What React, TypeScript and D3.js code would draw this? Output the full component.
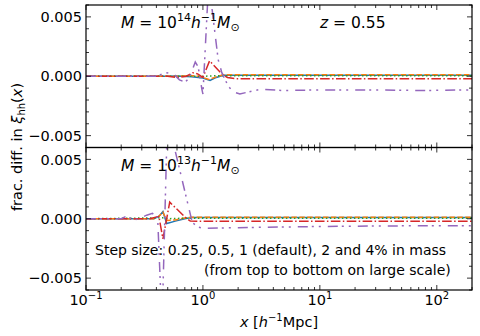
import React from "react";
import * as d3 from "d3";

// step sizes, from top to bottom on large scale
const stepNames = ["0.25%", "0.5%", "1%", "2%", "4%"];
const stepColors = ["#1f77b4", "#ff7f0e", "#2ca02c", "#d62728", "#9467bd"];
const stepDashes = ["", "5.5,2.4", "1.5,2.5", "9.6,2.4,1.5,2.4", "10,4,2,5,2,7"];

// M = 1e14 panel, [x (h^-1 Mpc), frac. diff.]
const top025 = [[0.1, 0], [0.5, 0], [0.6, 0.00003], [0.8, -0.00005], [1.0, -0.00015], [1.15, -0.00035], [1.3, -0.0001], [1.5, 0.00008], [200, 0.00008]];
const top05 = [[0.1, 0], [0.6, 0], [0.85, 0.00005], [1.0, -0.0001], [1.12, -0.00028], [1.3, -0.00005], [1.5, 0.00012], [200, 0.00012]];
const top1 = [[0.1, 0], [1.0, 0], [1.4, 0.00005], [200, 0.00005]];
const top2 = [[0.1, 0], [0.5, 0], [0.6, -0.0001], [0.72, 0], [0.82, 0.0003], [0.9, 0.0002], [1.0, -0.0001], [1.14, 0.0013], [1.45, 0.0002], [1.62, -0.0001], [1.9, -0.0002], [5, -0.0002], [20, -0.00022], [200, -0.00022]];
const top4 = [[0.1, 0], [0.4, 0], [0.48, 0.0003], [0.56, 0.0002], [0.63, -0.0003], [0.7, -0.0005], [0.76, -0.0002], [0.86, 0.0012], [0.91, 0.0008], [0.98, -0.0011], [1.0, -0.0015], [1.12, 0.008], [1.35, 0.0014], [1.45, 0.0003], [1.64, -0.0008], [1.8, -0.0013], [2.07, -0.0015], [2.5, -0.0013], [3.1, -0.0011], [4.8, -0.0012], [10, -0.00115], [30, -0.00115], [80, -0.0012], [200, -0.00115]];

// M = 1e13 panel
const bot025 = [[0.1, 0], [0.38, 0], [0.42, 0.0002], [0.455, 0.0006], [0.49, -0.0004], [0.58, -0.0002], [0.7, 0], [0.8, 0.0001], [200, 0.0001]];
const bot05 = [[0.1, 0], [0.38, 0], [0.42, 0.0002], [0.455, 0.00055], [0.49, -0.00015], [0.58, -0.0001], [0.68, 0.00005], [0.8, 0.00012], [200, 0.00012]];
const bot1 = [[0.1, 0], [0.45, 0.00008], [0.5, 0], [0.7, 0.00005], [200, 0.00005]];
const bot2 = [[0.1, 0], [0.35, 0], [0.42, 0.0002], [0.455, -0.0017], [0.52, 0.0014], [0.7, 0.00015], [0.78, -0.0002], [3, -0.00022], [200, -0.0002]];
const bot4 = [[0.1, 0], [0.2, 0], [0.22, 0.0002], [0.26, -0.0001], [0.3, 0.0001], [0.33, 0.0003], [0.37, 0.00045], [0.41, 0.0001], [0.447, -0.009], [0.5, 0.0095], [0.57, 0.006], [0.81, -0.0003], [0.9, -0.0007], [1.0, -0.0008], [2, -0.00075], [10, -0.00065], [50, -0.0006], [200, -0.00058]];

const xMajor = [0.1, 1, 10, 100];
const xExp = ["\u22121", "0", "1", "2"];
const yMajor = [-0.005, 0, 0.005];
const yLabels = ["\u22120.005", "0.000", "0.005"];

const W = 480;
const H = 336;
const left = 86;
const right = 472;
const panelTop = [5, 147.5];
const panelH = 142.5;
const font = "DejaVu Sans";

const x = d3.scaleLog().domain([0.1, 200]).range([left, right]);
const xMinor = d3.range(-1, 3).flatMap(e => d3.range(2, 10).map(m => m * Math.pow(10, e))).filter(v => v <= 200);
const yMinor = d3.range(-6, 7).map(v => v * 0.001).filter(v => Math.abs(v) > 1e-9 && Math.abs(Math.abs(v) - 0.005) > 1e-9);

const MassLabel = ({ xx, yy, exp }) => (
  <text x={xx} y={yy} fontFamily={font} fontSize={15.5}>
    <tspan fontStyle="italic">M</tspan>
    <tspan> = 10</tspan>
    <tspan dy={-7} fontSize={11}>{exp}</tspan>
    <tspan dy={7} fontStyle="italic">h</tspan>
    <tspan dy={-7} fontSize={11}>{"\u22121"}</tspan>
    <tspan dy={7} fontStyle="italic">M</tspan>
    <tspan dy={3} fontSize={11}>{"\u2299"}</tspan>
  </text>
);

const Panel = ({ idx, series, children }) => {
  const y0 = panelTop[idx];
  const y = d3.scaleLinear().domain([-0.006, 0.006]).range([y0 + panelH, y0]);
  const line = d3.line().x(d => x(d[0])).y(d => y(d[1]));
  const clipId = `clip${idx}`;
  return (
    <g>
      <defs>
        <clipPath id={clipId}>
          <rect x={left} y={y0} width={right - left} height={panelH} />
        </clipPath>
      </defs>
      <g clipPath={`url(#${clipId})`}>
        {series.map((s, i) => (
          <path key={i} d={line(s)} fill="none" stroke={stepColors[i]} strokeWidth={1.5}
            strokeDasharray={stepDashes[i]} />
        ))}
      </g>
      {/* ticks, inward on all four sides */}
      <g stroke="#000" strokeWidth={0.8}>
        {xMajor.map(v => (
          <g key={"M" + v}>
            <line x1={x(v)} x2={x(v)} y1={y0 + panelH} y2={y0 + panelH - 5} />
            <line x1={x(v)} x2={x(v)} y1={y0} y2={y0 + 5} />
          </g>
        ))}
        {xMinor.map(v => (
          <g key={"m" + v}>
            <line x1={x(v)} x2={x(v)} y1={y0 + panelH} y2={y0 + panelH - 3} />
            <line x1={x(v)} x2={x(v)} y1={y0} y2={y0 + 3} />
          </g>
        ))}
        {yMajor.map(v => (
          <g key={"yM" + v}>
            <line x1={left} x2={left + 5} y1={y(v)} y2={y(v)} />
            <line x1={right} x2={right - 5} y1={y(v)} y2={y(v)} />
          </g>
        ))}
        {yMinor.map(v => (
          <g key={"ym" + v}>
            <line x1={left} x2={left + 3} y1={y(v)} y2={y(v)} />
            <line x1={right} x2={right - 3} y1={y(v)} y2={y(v)} />
          </g>
        ))}
      </g>
      <rect x={left} y={y0} width={right - left} height={panelH} fill="none" stroke="#000" strokeWidth={1.2} />
      {yMajor.map((v, i) => (
        <text key={"yl" + v} x={left - 4} y={y(v)} dy="0.36em" textAnchor="end" fontFamily={font} fontSize={14.5}>
          {yLabels[i]}
        </text>
      ))}
      {children}
    </g>
  );
};

export default function App() {
  return (
    <svg width={W} height={H} style={{ display: "block", position: "absolute", left: 0, top: 0, background: "#fff" }}>
      <Panel idx={0} series={[top025, top05, top1, top2, top4]}>
        <MassLabel xx={121} yy={28} exp="14" />
        <text x={320} y={28} fontFamily={font} fontSize={15.5}>
          <tspan fontStyle="italic">z</tspan> = 0.55
        </text>
      </Panel>
      <Panel idx={1} series={[bot025, bot05, bot1, bot2, bot4]}>
        <MassLabel xx={121} yy={171} exp="13" />
        <text x={95} y={255} fontFamily={font} fontSize={14}>
          Step size: 0.25, 0.5, 1 (default), 2 and 4% in mass
        </text>
        <text x={204} y={275} fontFamily={font} fontSize={14}>
          (from top to bottom on large scale)
        </text>
      </Panel>
      {xMajor.map((v, i) => (
        <text key={"xl" + v} x={x(v)} y={305} textAnchor="middle" fontFamily={font} fontSize={14.5}>
          10<tspan dy={-6} fontSize={10}>{xExp[i]}</tspan>
        </text>
      ))}
      <text x={(left + right) / 2} y={327} textAnchor="middle" fontFamily={font} fontSize={14.5}>
        <tspan fontStyle="italic">x</tspan> [<tspan fontStyle="italic">h</tspan>
        <tspan dy={-6} fontSize={10}>{"\u22121"}</tspan>
        <tspan dy={6}>Mpc]</tspan>
      </text>
      <text transform={`translate(22,147) rotate(-90)`} textAnchor="middle" fontFamily={font} fontSize={14.5}>
        frac. diff. in <tspan fontStyle="italic">ξ</tspan>
        <tspan dy={3} fontSize={10}>hh</tspan>
        <tspan dy={-3}>(</tspan><tspan fontStyle="italic">x</tspan>)
      </text>
    </svg>
  );
}
